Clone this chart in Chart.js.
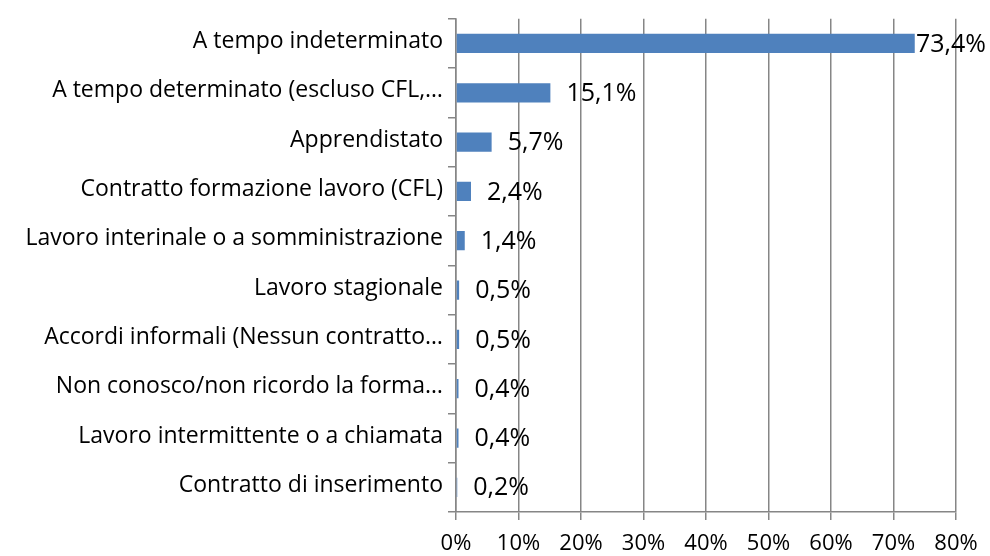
<!DOCTYPE html>
<html>
<head>
<meta charset="utf-8">
<script src="https://cdn.jsdelivr.net/npm/chart.js@4"></script>
<style>
  html, body { margin: 0; padding: 0; background: #fff; }
  #wrap { width: 990px; height: 556px; position: relative; }
</style>
</head>
<body>
<div id="wrap"><canvas id="chart"></canvas></div>
<script>
// categories and values
const categories = [
    "A tempo indeterminato",
    "A tempo determinato (escluso CFL,\u2026",
    "Apprendistato",
    "Contratto formazione lavoro (CFL)",
    "Lavoro interinale o a somministrazione",
    "Lavoro stagionale",
    "Accordi informali (Nessun contratto\u2026",
    "Non conosco/non ricordo la forma\u2026",
    "Lavoro intermittente o a chiamata",
    "Contratto di inserimento"
];
const shares = [73.4, 15.1, 5.7, 2.4, 1.4, 0.5, 0.5, 0.4, 0.4, 0.2];
const xTicks = [0, 10, 20, 30, 40, 50, 60, 70, 80];

const FONT = "'Open Sans', 'Noto Sans', sans-serif";
const gridGrey = '#868686';

function fmt(v) {
    return v.toFixed(1).replace('.', ',') + '%';
}

// value labels to the right of each bar (like Excel "outside end")
const valueLabels = {
    id: 'valueLabels',
    afterDatasetsDraw(chart) {
        const ctx = chart.ctx;
        const meta = chart.getDatasetMeta(0);
        ctx.save();
        ctx.font = '25px ' + FONT;
        ctx.fillStyle = '#000';
        ctx.textBaseline = 'middle';
        ctx.textAlign = 'left';
        meta.data.forEach((bar, i) => {
            const txt = fmt(shares[i]);
            const w = ctx.measureText(txt).width;
            let x = bar.x + 16;
            if (x + w > chart.width - 4) x = chart.width - 4 - w; // keep inside
            ctx.fillText(txt, x, bar.y + 1);
        });
        ctx.restore();
    }
};

new Chart(document.getElementById('chart'), {
    type: 'bar',
    data: {
        labels: categories,
        datasets: [{
            data: shares,
            backgroundColor: '#4F81BD',
            borderWidth: 0,
            barPercentage: 0.39,
            categoryPercentage: 1.0
        }]
    },
    options: {
        indexAxis: 'y',
        responsive: true,
        maintainAspectRatio: false,
        animation: false,
        layout: { padding: { top: 13, right: 34, left: 0, bottom: 0 } },
        plugins: {
            legend: { display: false },
            tooltip: { enabled: false }
        },
        scales: {
            x: {
                min: 0,
                max: 80,
                afterBuildTicks(scale) {
                    scale.ticks = xTicks.map(v => ({ value: v }));
                },
                afterFit(scale) { scale.height = 44; },
                grid: {
                    color: gridGrey,
                    lineWidth: 1.5,
                    tickLength: 8,
                    drawOnChartArea: true
                },
                border: { display: true, color: gridGrey, width: 1.5 },
                ticks: {
                    color: '#000',
                    font: { family: FONT, size: 22 },
                    padding: 11,
                    maxRotation: 0,
                    callback: v => v + '%'
                }
            },
            y: {
                afterFit(scale) { scale.width = 456; },
                grid: {
                    color: gridGrey,
                    lineWidth: 1.5,
                    tickLength: 8,
                    offset: true,
                    drawOnChartArea: false
                },
                border: { display: true, color: gridGrey, width: 1.5 },
                ticks: {
                    color: '#000',
                    font: { family: FONT, size: 23 },
                    padding: 5,
                    labelOffset: -2,
                    autoSkip: false
                }
            }
        }
    },
    plugins: [valueLabels]
});
</script>
</body>
</html>
